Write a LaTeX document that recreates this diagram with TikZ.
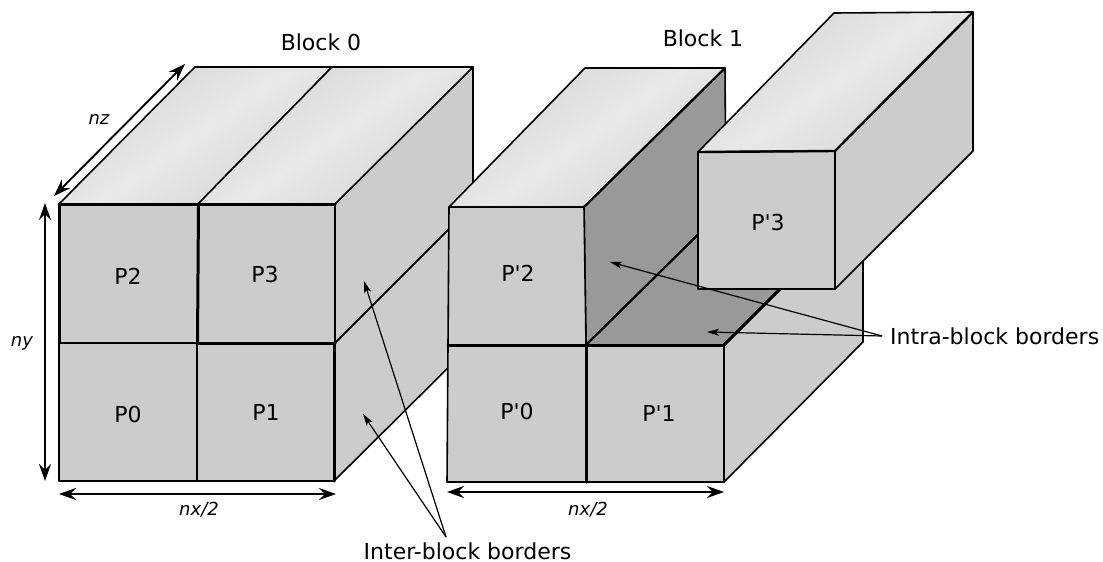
\documentclass[tikz,border=0pt]{standalone}
\usepackage{fontspec}
\newfontfamily\dvfont{DejaVu Sans}
\usetikzlibrary{arrows.meta}
\definecolor{facegray}{HTML}{CCCCCC}
\definecolor{darkgray}{HTML}{999999}
\definecolor{topa}{HTML}{D6D6D6}
\definecolor{topb}{HTML}{E8E8E8}
\tikzset{
  face/.style={fill=facegray,draw=black,line width=1.6pt,line join=round},
  darkface/.style={fill=darkgray,draw=black,line width=1.6pt,line join=round},
  topface/.style={left color=topa,right color=topa,middle color=topb,shading angle=35,draw=black,line width=1.6pt,line join=round},
  heavy/.style={draw=black,line width=3pt,line cap=round},
  dim/.style={draw=black,line width=1.9pt,{Stealth[length=17pt,width=12pt,inset=6pt]}-{Stealth[length=17pt,width=12pt,inset=6pt]}},
  lead/.style={draw=black,line width=1.2pt,-{Stealth[length=12pt,width=7pt,inset=3pt]}},
  lbl/.style={font=\dvfont\fontsize{22}{26}\selectfont,inner sep=0pt},
  dimlbl/.style={font=\dvfont\fontsize{18}{21}\selectfont\itshape,inner sep=0pt}
}
\begin{document}
\begin{tikzpicture}[x=1pt,y=-1pt]
\useasboundingbox (0,0) rectangle (1103,562);
% Block 0
\draw[face] (335,204) -- (473,67) -- (473,343) -- (334,481) -- cycle;
\draw[draw=black,line width=1.9pt] (335,343) -- (473,205);
\shadedraw[topface] (59,204) -- (195,67) -- (332,67) -- (198,204) -- cycle;
\shadedraw[topface] (198,204) -- (332,67) -- (473,67) -- (335,204) -- cycle;
\draw[face] (59,204) rectangle (198,343);
\draw[face] (198,204) rectangle (335,343);
\draw[face] (59,343) rectangle (197,481);
\draw[face] (197,343) rectangle (334,481);
\draw[heavy] (59,204) -- (335,204);
\draw[heavy] (59,204) -- (59,343);
\draw[heavy] (198.5,204) -- (197.5,343);
\draw[heavy] (197,343) -- (335,343);
\draw[draw=black,line width=2pt] (59,343) -- (197,343);
\draw[heavy] (334,343) -- (334,481);
\draw[draw=black,line width=2.2pt] (59,481) -- (334,481);
% Block 1 rear faces
\draw[face] (724,345) -- (863,207) -- (863,342) -- (724,482) -- cycle;
\draw[darkface] (584,207) -- (725,68) -- (726,207) -- (586,345) -- cycle;
\draw[darkface] (586,345) -- (724,345) -- (863,207) -- (726,207) -- cycle;
\draw[draw=black,line width=2.2pt] (586,345) -- (726,207);
\draw[heavy] (724,345) -- (790,279);
% Block 1 front faces
\shadedraw[topface] (449,207) -- (585,68) -- (725,68) -- (584,207) -- cycle;
\draw[draw=black,line width=2.2pt] (584,207) -- (725,68);
\draw[face] (449,207) -- (584,207) -- (586,345) -- (448,345) -- cycle;
\draw[face] (448,345) -- (586,345) -- (586,482) -- (447,482) -- cycle;
\draw[face] (586,345) -- (724,345) -- (724,482) -- (586,482) -- cycle;
\draw[heavy] (448,345) -- (724,345);
\draw[heavy] (586,345) -- (586,482);
\draw[draw=black,line width=2.2pt] (449,207) -- (584,207);
% P'3
\draw[face] (835,151) -- (973,12) -- (973,151) -- (835,289) -- cycle;
\shadedraw[topface] (698,152) -- (834,13) -- (973,12) -- (835,151) -- cycle;
\draw[draw=black,line width=2.4pt] (835,151) -- (973,12);
\draw[face] (698,152) -- (835,151) -- (835,289) -- (698,289) -- cycle;
\draw[draw=black,line width=2.4pt] (698,152) -- (835,151);
% Labels
\node[lbl] (block0) at (321,42) {Block 0};
\node[lbl] (block1) at (703,38) {Block 1};
\node[lbl] (p2) at (128,276) {P2};
\node[lbl] (p3) at (265,274) {P3};
\node[lbl] (p0) at (128,414) {P0};
\node[lbl] (p1) at (266,412) {P1};
\node[lbl] (q0) at (517,411) {P'0};
\node[lbl] (q1) at (659,413) {P'1};
\node[lbl] (q2) at (518,273) {P'2};
\node[lbl] (q3) at (768,222) {P'3};
\node[dimlbl] (nz) at (99,119) {nz};
\node[dimlbl] (ny) at (22,343) {ny};
\node[dimlbl] (nxa) at (199,510) {nx/2};
\node[dimlbl] (nxb) at (588,510) {nx/2};
\node[lbl] (inter) at (467.5,551) {Inter-block borders};
\node[lbl,anchor=west] (intra) at (890,336) {Intra-block borders};
% Dimension arrows
\coordinate (nzA) at (185,64);
\coordinate (nzB) at (54,196);
\coordinate (nyA) at (45,203);
\coordinate (nyB) at (45,481);
\coordinate (nxaA) at (59,494);
\coordinate (nxaB) at (336,494);
\coordinate (nxbA) at (447,492);
\coordinate (nxbB) at (724,492);
\draw[dim] (nzA) -- (nzB);
\draw[dim] (nyA) -- (nyB);
\draw[dim] (nxaA) -- (nxaB);
\draw[dim] (nxbA) -- (nxbB);
% Leaders
\coordinate (interApex) at (446,537);
\coordinate (interT1) at (364,281);
\coordinate (interT2) at (363,414);
\coordinate (intraApex) at (882,336);
\coordinate (intraT1) at (610,262);
\coordinate (intraT2) at (707,332);
\draw[lead] (interApex) -- (interT1);
\draw[lead] (interApex) -- (interT2);
\draw[lead] (intraApex) -- (intraT1);
\draw[lead] (intraApex) -- (intraT2);
\end{tikzpicture}
\end{document}
